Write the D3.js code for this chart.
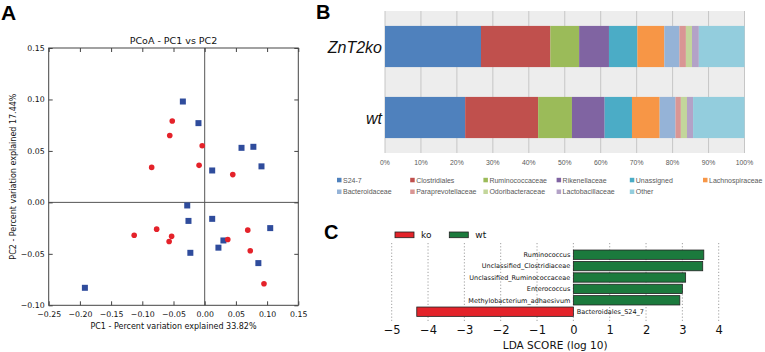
<!DOCTYPE html>
<html>
<head>
<meta charset="UTF-8">
<title>Microbiota - PCoA, composition and LEfSe</title>
<script src="https://d3js.org/d3.v7.min.js"></script>
<style>
  body { margin: 0; background: #fff; }
  svg { display: block; }
  .mpl text { font-family: "DejaVu Sans", sans-serif; fill: #111; }
  .xl text { font-family: "Liberation Sans", Arial, sans-serif; }
  .panel-letter { font-family: "Liberation Sans", Arial, sans-serif; font-weight: bold; fill: #000; }
</style>
</head>
<body>
<div id="chart"></div>
<script>
// ---- panel A : PCoA PC1 vs PC2 ----
const bluePC1 = [-0.192, -0.035, -0.010, 0.059, 0.078, 0.091, 0.012, -0.028, -0.026, -0.023, 0.012, 0.105, 0.030, 0.022, 0.086];
const bluePC2 = [-0.083, 0.098, 0.077, 0.053, 0.054, 0.035, 0.031, -0.003, -0.018, -0.049, -0.016, -0.025, -0.037, -0.044, -0.059];
const redPC1 = [-0.052, -0.056, -0.085, -0.004, -0.009, 0.045, -0.113, -0.077, -0.053, -0.057, 0.069, 0.037, 0.073, 0.095];
const redPC2 = [0.079, 0.065, 0.034, 0.055, 0.036, 0.027, -0.032, -0.026, -0.033, -0.038, -0.027, -0.036, -0.047, -0.079];
const pcoaXTicks = [-0.25, -0.20, -0.15, -0.10, -0.05, 0.00, 0.05, 0.10, 0.15];
const pcoaYTicks = [-0.10, -0.05, 0.00, 0.05, 0.10, 0.15];

// ---- panel B : relative abundance (%) ----
const groups = ["ZnT2ko", "wt"];
const taxa = ["S24-7", "Clostridiales", "Ruminococcaceae", "Rikenellaceae", "Unassigned", "Lachnospiraceae",
              "Bacteroidaceae", "Paraprevotellaceae", "Odoribacteraceae", "Lactobacillaceae", "Other"];
const znt2koShare = [26.7, 19.3, 8.0, 8.3, 7.9, 7.5, 4.2, 1.8, 1.7, 1.9, 12.7];
const wtShare = [22.3, 20.3, 9.4, 9.1, 7.6, 7.7, 4.4, 1.5, 1.7, 1.7, 14.3];
const taxaColors = ["#4f81bd", "#c0504d", "#9bbb59", "#8064a2", "#4bacc6", "#f79646",
                    "#95b3d7", "#d99694", "#c3d69b", "#b3a2c7", "#93cddd"];
const pctTicks = [0, 10, 20, 30, 40, 50, 60, 70, 80, 90, 100];

// ---- panel C : LDA scores ----
const ldaFeatures = ["Ruminococcus", "Unclassified_Clostridiaceae", "Unclassified_Ruminococcaceae",
                     "Enterococcus", "Methylobacterium_adhaesivum", "Bacteroidales_S24_7"];
const ldaScores = [3.59, 3.56, 3.09, 3.00, 2.93, -4.31];
const ldaClass = ["wt", "wt", "wt", "wt", "wt", "ko"];
const ldaTicks = [-5, -4, -3, -2, -1, 0, 1, 2, 3, 4];
const classNames = ["ko", "wt"];

const svg = d3.select("#chart").append("svg")
  .attr("width", 765)
  .attr("height", 352);

// panel letters
svg.append("text").attr("class", "panel-letter").attr("x", 1).attr("y", 20).attr("font-size", 21).text("A");
svg.append("text").attr("class", "panel-letter").attr("x", 316).attr("y", 18.5).attr("font-size", 20).text("B");
svg.append("text").attr("class", "panel-letter").attr("x", 324).attr("y", 238.5).attr("font-size", 20).text("C");

// ================= A =================
const gA = svg.append("g").attr("class", "mpl");
const xA = d3.scaleLinear().domain([-0.25, 0.15]).range([48.7, 298.3]);
const yA = d3.scaleLinear().domain([-0.10, 0.15]).range([305.3, 48]);
const fmt2 = d3.format(".2f");

// zero lines
gA.append("line")
  .attr("x1", xA(0)).attr("x2", xA(0))
  .attr("y1", yA(0.15)).attr("y2", yA(-0.10))
  .attr("stroke", "#555").attr("stroke-width", 1);
gA.append("line")
  .attr("x1", xA(-0.25)).attr("x2", xA(0.15))
  .attr("y1", yA(0)).attr("y2", yA(0))
  .attr("stroke", "#555").attr("stroke-width", 1);

const axB = gA.append("g").attr("transform", `translate(0,${yA(-0.10)})`)
  .call(d3.axisBottom(xA).tickValues(pcoaXTicks).tickFormat(fmt2).tickSizeInner(-4).tickSizeOuter(0).tickPadding(6));
const axL = gA.append("g").attr("transform", `translate(${xA(-0.25)},0)`)
  .call(d3.axisLeft(yA).tickValues(pcoaYTicks).tickFormat(fmt2).tickSizeInner(-4).tickSizeOuter(0).tickPadding(4));
const axT = gA.append("g").attr("transform", `translate(0,${yA(0.15)})`)
  .call(d3.axisTop(xA).tickValues(pcoaXTicks).tickFormat("").tickSizeInner(-4).tickSizeOuter(0));
const axR = gA.append("g").attr("transform", `translate(${xA(0.15)},0)`)
  .call(d3.axisRight(yA).tickValues(pcoaYTicks).tickFormat("").tickSizeInner(-4).tickSizeOuter(0));
[axB, axL, axT, axR].forEach(ax => {
  ax.select(".domain").remove();
  ax.selectAll(".tick line").attr("stroke", "#444");
  ax.selectAll("text").attr("font-size", 7.8).attr("fill", "#111").attr("font-family", "DejaVu Sans");
});

gA.append("rect")
  .attr("x", xA(-0.25)).attr("y", yA(0.15))
  .attr("width", xA(0.15) - xA(-0.25)).attr("height", yA(-0.10) - yA(0.15))
  .attr("fill", "none").attr("stroke", "#444").attr("stroke-width", 1);

const blueData = bluePC1.map((v, i) => ({ pc1: v, pc2: bluePC2[i] }));
const redData = redPC1.map((v, i) => ({ pc1: v, pc2: redPC2[i] }));

gA.selectAll(".sq").data(blueData).enter().append("rect")
  .attr("class", "sq")
  .attr("x", d => xA(d.pc1) - 3).attr("y", d => yA(d.pc2) - 3)
  .attr("width", 6).attr("height", 6)
  .attr("fill", "#2f4c9c");

gA.selectAll(".dot").data(redData).enter().append("circle")
  .attr("class", "dot")
  .attr("cx", d => xA(d.pc1)).attr("cy", d => yA(d.pc2))
  .attr("r", 2.8)
  .attr("fill", "#e4222a");

gA.append("text").attr("x", 173.5).attr("y", 43.5).attr("text-anchor", "middle")
  .attr("font-size", 9.5).text("PCoA - PC1 vs PC2");
gA.append("text").attr("x", 173.5).attr("y", 328.5).attr("text-anchor", "middle")
  .attr("font-size", 8).text("PC1 - Percent variation explained 33.82%");
gA.append("text").attr("transform", "translate(15.5,176.6) rotate(-90)").attr("text-anchor", "middle")
  .attr("font-size", 8).text("PC2 - Percent variation explained 17.44%");

// ================= B =================
const gB = svg.append("g").attr("class", "xl");
const xB = d3.scaleLinear().domain([0, 100]).range([385, 744.5]);
const yB = d3.scaleBand().domain(groups).range([11, 153]).paddingInner(0.42).paddingOuter(0.21);

gB.append("rect").attr("x", xB(0)).attr("y", 11)
  .attr("width", xB(100) - xB(0)).attr("height", 142).attr("fill", "#ededed");

gB.selectAll(".grid").data(pctTicks).enter().append("line")
  .attr("class", "grid")
  .attr("x1", d => xB(d)).attr("x2", d => xB(d))
  .attr("y1", 11).attr("y2", 153)
  .attr("stroke", "#c6c6c6").attr("stroke-width", 1);

const rows = groups.map((g, gi) => {
  const vals = gi === 0 ? znt2koShare : wtShare;
  const r = { group: g };
  taxa.forEach((t, i) => { r[t] = vals[i]; });
  return r;
});
const stacked = d3.stack().keys(taxa)(rows);

gB.selectAll(".layer").data(stacked).enter().append("g")
  .attr("class", "layer")
  .attr("fill", (d, i) => taxaColors[i])
  .selectAll("rect").data(d => d).enter().append("rect")
  .attr("x", d => xB(d[0]))
  .attr("y", d => yB(d.data.group))
  .attr("width", d => xB(d[1]) - xB(d[0]))
  .attr("height", yB.bandwidth());

gB.selectAll(".glab").data(groups).enter().append("text")
  .attr("class", "glab")
  .attr("x", 382).attr("y", d => yB(d) + yB.bandwidth() / 2 + 6.5)
  .attr("text-anchor", "end").attr("font-size", 16).attr("font-style", "italic").attr("fill", "#111")
  .text(d => d);

gB.selectAll(".ptick").data(pctTicks).enter().append("text")
  .attr("class", "ptick")
  .attr("x", d => xB(d)).attr("y", 164.5)
  .attr("text-anchor", "middle").attr("font-size", 6.8).attr("fill", "#595959")
  .text(d => d + "%");

const leg = gB.selectAll(".leg").data(taxa).enter().append("g")
  .attr("class", "leg")
  .attr("transform", (d, i) => `translate(${337 + (i % 6) * 73.2},${i < 6 ? 180.3 : 192})`);
leg.append("rect").attr("x", 0).attr("y", -2.5).attr("width", 4.5).attr("height", 4.5)
  .attr("fill", (d, i) => taxaColors[i]);
leg.append("text").attr("x", 6).attr("y", 2.3).attr("font-size", 7).attr("fill", "#595959").text(d => d);

// ================= C =================
const gC = svg.append("g").attr("class", "mpl");
const xC = d3.scaleLinear().domain([-5, 4]).range([391.7, 718.7]);
const yC = d3.scaleBand().domain(ldaFeatures).range([249, 317.4]).paddingInner(0.18).paddingOuter(0.09);
const classColor = { ko: "#e3232a", wt: "#1b7a3d" };

gC.selectAll(".vgrid").data(ldaTicks).enter().append("line")
  .attr("class", "vgrid")
  .attr("x1", d => xC(d)).attr("x2", d => xC(d))
  .attr("y1", 243).attr("y2", 322)
  .attr("stroke", "#888").attr("stroke-width", 0.8).attr("stroke-dasharray", "1.2,2");

gC.selectAll(".lbar").data(ldaFeatures).enter().append("rect")
  .attr("class", "lbar")
  .attr("x", (d, i) => xC(Math.min(0, ldaScores[i])))
  .attr("y", d => yC(d))
  .attr("width", (d, i) => Math.abs(xC(ldaScores[i]) - xC(0)))
  .attr("height", yC.bandwidth())
  .attr("fill", (d, i) => classColor[ldaClass[i]])
  .attr("stroke", "#222").attr("stroke-width", 0.8);

gC.selectAll(".flab").data(ldaFeatures).enter().append("text")
  .attr("class", "flab")
  .attr("x", (d, i) => ldaScores[i] > 0 ? xC(0) - 3 : xC(0) + 3.4)
  .attr("y", d => yC(d) + yC.bandwidth() / 2 + 2.3)
  .attr("text-anchor", (d, i) => ldaScores[i] > 0 ? "end" : "start")
  .attr("font-size", 6.5)
  .text(d => d);

const axC = gC.append("g").attr("transform", "translate(0,322)")
  .call(d3.axisBottom(xC).tickValues(ldaTicks).tickSizeInner(0).tickSizeOuter(0).tickPadding(4));
axC.select(".domain").remove();
axC.selectAll("text").attr("font-size", 11.5).attr("fill", "#111").attr("font-family", "DejaVu Sans");

gC.append("text").attr("x", xC(-0.5)).attr("y", 348.5).attr("text-anchor", "middle")
  .attr("font-size", 10.5).text("LDA SCORE (log 10)");

const cleg = gC.selectAll(".cleg").data(classNames).enter().append("g")
  .attr("class", "cleg")
  .attr("transform", (d, i) => `translate(${395 + i * 54.3},232)`);
cleg.append("rect").attr("width", 19).attr("height", 5.7)
  .attr("fill", d => classColor[d]).attr("stroke", "#222").attr("stroke-width", 0.8);
cleg.append("text").attr("x", 26).attr("y", 6).attr("font-size", 9).text(d => d);
</script>
</body>
</html>
